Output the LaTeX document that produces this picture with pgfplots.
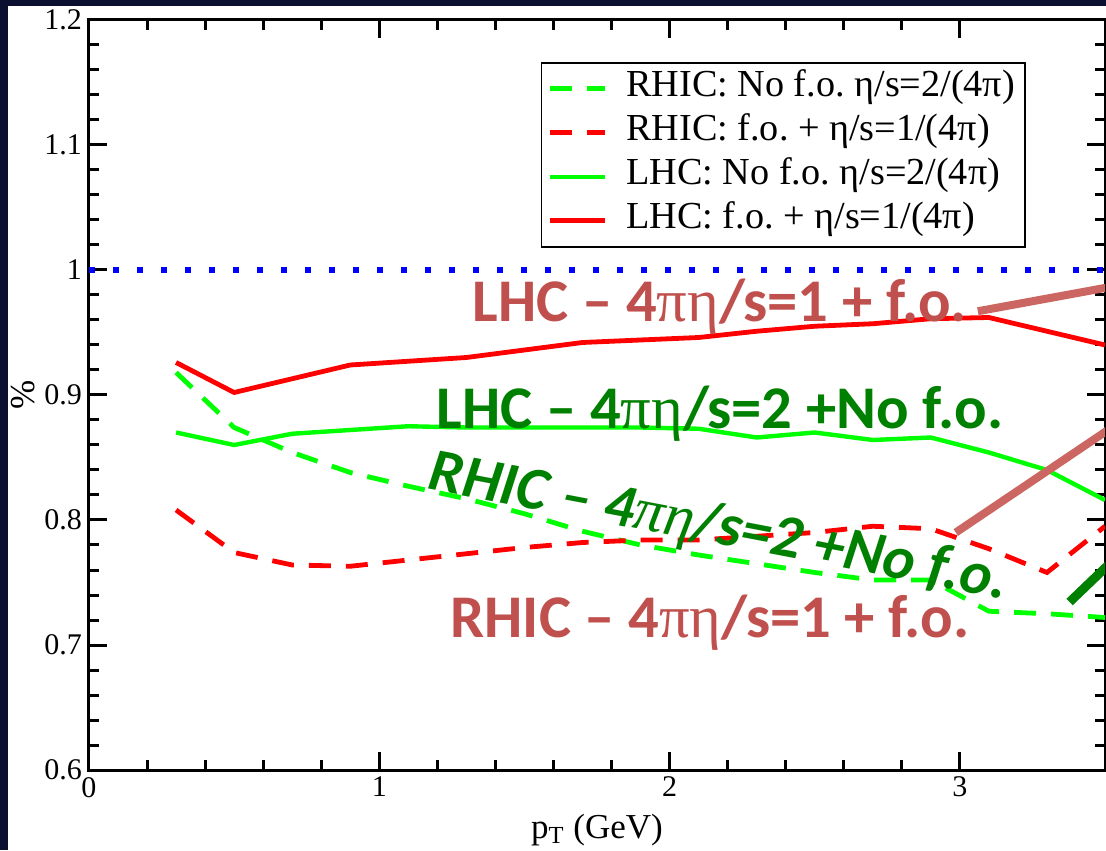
\documentclass[border=0pt]{standalone}
\usepackage{fontspec}
\setmainfont{Liberation Serif}
\newfontfamily\annofont{Carlito}
\newfontfamily\grk{Liberation Serif}
\usepackage{pgfplots}
\pgfplotsset{compat=1.18}
\usetikzlibrary{backgrounds,calc}
\frenchspacing

\definecolor{rosy}{RGB}{192,80,77}
\definecolor{rosyline}{RGB}{204,102,98}
\definecolor{dkgreen}{RGB}{0,128,0}
\definecolor{navy}{RGB}{12,16,48}
\definecolor{brgreen}{RGB}{0,255,0}

\begin{document}
\begin{tikzpicture}
\begin{axis}[
  name=ax,
  scale only axis, width=508pt, height=375pt,
  xmin=0, xmax=3.5, ymin=0.6, ymax=1.2,
  xtick={0,1,2,3}, minor x tick num=4,
  ytick={0.6,0.7,0.8,0.9,1,1.1,1.2}, minor y tick num=4,
  tick align=inside, xtick pos=both, ytick pos=both,
  xticklabel pos=lower, yticklabel pos=left,
  major tick length=9pt, minor tick length=5pt,
  every tick/.style={black, line width=1.5pt},
  axis line style={line width=1.5pt},
  tick label style={font=\fontsize{15}{15}\selectfont},
  /pgf/number format/assume math mode=true,
  xlabel={p\textsubscript{T} (GeV)},
  ylabel={\%},
  label style={font=\fontsize{17.5}{17.5}\selectfont},
  xlabel style={at={(axis description cs:0.5,0)}, anchor=base, yshift=-34pt},
  ylabel style={at={(axis description cs:-0.065,0.5)}, anchor=center},
  legend style={at={(0.922,0.944)}, anchor=north east, draw=black, line width=0.8pt,
    font=\fontsize{19.1}{19.1}\selectfont, inner xsep=3pt, inner ysep=2pt,
    nodes={inner sep=2pt, text height=13pt, text depth=5pt}, row sep=0pt},
  legend cell align=left,
  legend image code/.code={\draw[#1] (0pt,0pt) -- (27.5pt,0pt); \path (35pt,0pt);},
  clip=true,
]
% reference line at 1
\addplot[blue, line width=2.7pt, dash pattern=on 3.2pt off 8.8pt, forget plot]
  coordinates {(0,1) (3.5,1)};

% RHIC: No f.o. eta/s=2/(4pi)
\addplot[brgreen, line width=2.4pt, dash pattern=on 11pt off 7.5pt] coordinates {
 (0.3,0.918) (0.5,0.874) (0.7,0.854) (0.9,0.838) (1.1,0.827) (1.3,0.817)
 (1.5,0.805) (1.7,0.791) (1.9,0.780) (2.1,0.772) (2.3,0.765) (2.5,0.758)
 (2.7,0.752) (2.9,0.752) (3.1,0.727) (3.3,0.725) (3.5,0.722)};
\addlegendentry{RHIC: No f.o. η/s=2/(4π)}

% RHIC: f.o. + eta/s=1/(4pi)
\addplot[red, line width=2.4pt, dash pattern=on 11pt off 7.5pt] coordinates {
 (0.3,0.808) (0.5,0.774) (0.7,0.764) (0.9,0.763) (1.1,0.768) (1.3,0.773)
 (1.5,0.778) (1.7,0.782) (1.9,0.784) (2.1,0.784) (2.3,0.787) (2.5,0.790)
 (2.7,0.795) (2.9,0.793) (3.1,0.777) (3.3,0.758) (3.5,0.795)};
\addlegendentry{RHIC: f.o. + η/s=1/(4π)}

% LHC: No f.o. eta/s=2/(4pi)
\addplot[brgreen, line width=2.2pt] coordinates {
 (0.3,0.870) (0.5,0.860) (0.7,0.869) (0.9,0.872) (1.1,0.875) (1.3,0.874)
 (1.5,0.874) (1.7,0.874) (1.9,0.874) (2.1,0.873) (2.3,0.866) (2.5,0.870)
 (2.7,0.864) (2.9,0.866) (3.1,0.854) (3.3,0.840) (3.5,0.816)};
\addlegendentry{LHC: No f.o. η/s=2/(4π)}

% LHC: f.o. + eta/s=1/(4pi)
\addplot[red, line width=2.4pt] coordinates {
 (0.3,0.926) (0.5,0.902) (0.7,0.913) (0.9,0.924) (1.1,0.927) (1.3,0.930)
 (1.5,0.936) (1.7,0.942) (1.9,0.944) (2.1,0.946) (2.3,0.951) (2.5,0.955)
 (2.7,0.957) (2.9,0.961) (3.1,0.962) (3.3,0.951) (3.5,0.940)};
\addlegendentry{LHC: f.o. + η/s=1/(4π)}

% annotations
\draw[rosyline, line width=4pt] (axis cs:3.062,0.967) -- (axis cs:3.52,0.9865);
\draw[rosyline, line width=4pt] (axis cs:2.986,0.790) -- (axis cs:3.52,0.8735);
\draw[dkgreen, line width=4.5pt] (axis cs:3.378,0.7344) -- (axis cs:3.52,0.766);

\node[anchor=base west, inner sep=0, text=rosy,
  font={\fontsize{30.3}{30.3}\selectfont\annofont\bfseries}]
  at (axis cs:1.32,0.9584) {LHC – 4{\grk\mdseries πη}/s=1 + f.o.};
\node[anchor=base west, inner sep=0, text=dkgreen,
  font={\fontsize{30.3}{30.3}\selectfont\annofont\bfseries}]
  at (axis cs:1.196,0.8728) {LHC – 4{\grk\mdseries πη}/s=2 +No f.o.};
\node[anchor=base west, inner sep=0, text=dkgreen, rotate=-10.8,
  font={\fontsize{30.3}{30.3}\selectfont\annofont\bfseries\itshape}]
  at (axis cs:1.162,0.825) {RHIC – 4{\grk\mdseries\itshape πη}/s=2 +No f.o.};
\node[anchor=base west, inner sep=0, text=rosy,
  font={\fontsize{30.3}{30.3}\selectfont\annofont\bfseries}]
  at (axis cs:1.244,0.7064) {RHIC – 4{\grk\mdseries πη}/s=1 + f.o.};
\end{axis}

\begin{scope}[on background layer]
  \fill[navy] ($(ax.south west)+(-44.5pt,-40pt)$) rectangle ($(ax.south west)+(508.5pt,385pt)$);
  \fill[white] ($(ax.south west)+(-40.5pt,-40pt)$) rectangle ($(ax.south west)+(508.5pt,382pt)$);
\end{scope}
\pgfresetboundingbox
\path ($(ax.south west)+(-44.5pt,-40pt)$) rectangle ($(ax.south west)+(508.5pt,385pt)$);
\end{tikzpicture}
\end{document}
